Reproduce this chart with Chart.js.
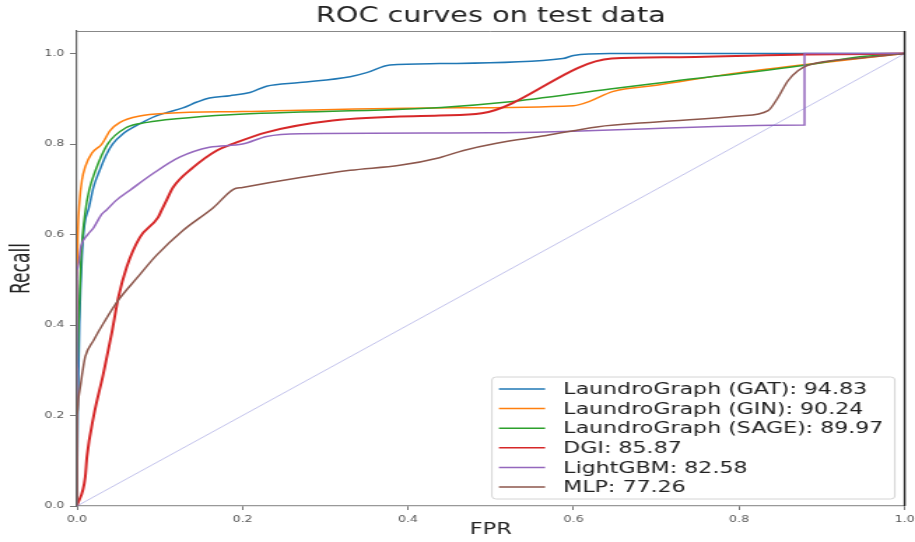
<!DOCTYPE html>
<html>
<head>
<meta charset="utf-8">
<title>ROC curves on test data</title>
<script src="https://cdn.jsdelivr.net/npm/chart.js@4.4.1/dist/chart.umd.min.js"></script>
<style>
  html, body { margin: 0; padding: 0; background: #fff; }
  #c { display: block; }
</style>
</head>
<body>
<!-- drawn at 654px wide and stretched to 915px, like the reference -->
<canvas id="c" width="654" height="542" style="width:915px;height:542px"></canvas>
<script>
const titleText = "ROC curves on test data";
const labels = [
  "LaundroGraph (GAT): 94.83",
  "LaundroGraph (GIN): 90.24",
  "LaundroGraph (SAGE): 89.97",
  "DGI: 85.87",
  "LightGBM: 82.58",
  "MLP: 77.26"
];
const colors = ["#1f77b4", "#ff7f0e", "#2ca02c", "#d62728", "#9467bd", "#8c564b"];

const gatFpr = [0, 0.001, 0.003, 0.006, 0.009, 0.0145, 0.02, 0.027, 0.035, 0.043, 0.055, 0.076, 0.095, 0.109, 0.128, 0.145, 0.16, 0.185, 0.209, 0.229, 0.269, 0.33, 0.35, 0.378, 0.438, 0.587, 0.6, 0.644, 1];
const gatTpr = [0, 0.2, 0.4, 0.55, 0.62, 0.66, 0.705, 0.74, 0.775, 0.8, 0.822, 0.845, 0.862, 0.87, 0.88, 0.893, 0.902, 0.907, 0.914, 0.928, 0.936, 0.949, 0.958, 0.975, 0.978, 0.989, 0.996, 1, 1];

const ginFpr = [0, 0, 0.001, 0.003, 0.006, 0.01, 0.018, 0.03, 0.04, 0.052, 0.076, 0.11, 0.2, 0.43, 0.6, 0.62, 0.647, 0.7, 0.8, 0.9, 1];
const ginTpr = [0, 0.5, 0.6, 0.67, 0.72, 0.75, 0.78, 0.8, 0.83, 0.848, 0.862, 0.868, 0.872, 0.88, 0.885, 0.895, 0.916, 0.93, 0.958, 0.98, 1];

const sageFpr = [0, 0, 0.002, 0.005, 0.01, 0.015, 0.022, 0.037, 0.06, 0.085, 0.12, 0.185, 0.44, 0.52, 0.644, 0.716, 0.882, 0.946, 1];
const sageTpr = [0, 0.3, 0.4, 0.55, 0.65, 0.7, 0.74, 0.8, 0.837, 0.848, 0.856, 0.865, 0.881, 0.893, 0.922, 0.938, 0.975, 0.993, 1];

const dgiFpr = [0, 0.01, 0.012, 0.02, 0.032, 0.042, 0.05, 0.06, 0.076, 0.098, 0.102, 0.108, 0.116, 0.14, 0.169, 0.189, 0.229, 0.309, 0.438, 0.489, 0.646, 0.72, 0.88, 1];
const dgiTpr = [0, 0.064, 0.108, 0.197, 0.293, 0.382, 0.461, 0.528, 0.594, 0.638, 0.653, 0.675, 0.704, 0.748, 0.786, 0.801, 0.826, 0.852, 0.863, 0.868, 0.989, 0.992, 0.998, 1];

const lgbmFpr = [0, 0, 0.005, 0.013, 0.02, 0.03, 0.036, 0.047, 0.064, 0.092, 0.124, 0.16, 0.2, 0.229, 0.27, 0.5, 0.879, 0.879, 1];
const lgbmTpr = [0, 0.52, 0.575, 0.6, 0.615, 0.645, 0.655, 0.675, 0.698, 0.735, 0.771, 0.793, 0.8, 0.817, 0.823, 0.825, 0.842, 1, 1];

const mlpFpr = [0, 0, 0.002, 0.004, 0.007, 0.01, 0.02, 0.032, 0.05, 0.072, 0.096, 0.128, 0.165, 0.189, 0.2, 0.27, 0.33, 0.39, 0.438, 0.467, 0.507, 0.567, 0.628, 0.7, 0.8, 0.835, 0.847, 0.859, 0.871, 0.883, 0.94, 1];
const mlpTpr = [0, 0.2, 0.24, 0.263, 0.3, 0.33, 0.366, 0.404, 0.455, 0.503, 0.554, 0.609, 0.66, 0.7, 0.704, 0.726, 0.742, 0.753, 0.77, 0.786, 0.802, 0.819, 0.838, 0.849, 0.862, 0.874, 0.903, 0.94, 0.962, 0.974, 0.989, 1];

const diagFpr = [0, 1];
const diagTpr = [0, 1];

const xTicks = [0, 0.2, 0.4, 0.6, 0.8, 1.0];
const yTicks = [0, 0.2, 0.4, 0.6, 0.8, 1.0];

const series = [
  [gatFpr, gatTpr], [ginFpr, ginTpr], [sageFpr, sageTpr],
  [dgiFpr, dgiTpr], [lgbmFpr, lgbmTpr], [mlpFpr, mlpTpr]
];

function points(xs, ys) {
  return xs.map((x, i) => ({ x: x, y: ys[i] }));
}

const datasets = series.map((s, i) => ({
  label: labels[i],
  data: points(s[0], s[1]),
  borderColor: colors[i],
  borderWidth: i === 3 ? 2 : 1.5,
  pointRadius: 0,
  cubicInterpolationMode: "monotone",
  order: 6 - i
}));
datasets.push({
  label: "chance",
  data: points(diagFpr, diagTpr),
  borderColor: "rgba(120,120,210,0.45)",
  borderWidth: 1,
  pointRadius: 0,
  order: 0
});

// title centred on the plot, top/right frame lines, legend box inside the plot
const framePlugin = {
  id: "frame",
  afterDraw(chart) {
    const { ctx, chartArea: a } = chart;
    ctx.save();
    ctx.strokeStyle = "#888";
    ctx.lineWidth = 1;
    ctx.beginPath();
    ctx.moveTo(a.left, a.top + 0.5);
    ctx.lineTo(a.right, a.top + 0.5);
    ctx.stroke();
    ctx.strokeStyle = "#222";
    ctx.lineWidth = 1.4;
    ctx.beginPath();
    ctx.moveTo(a.right, a.top);
    ctx.lineTo(a.right, a.bottom);
    ctx.stroke();

    ctx.fillStyle = "#222";
    ctx.font = "20.5px 'DejaVu Sans'";
    ctx.textAlign = "center";
    ctx.textBaseline = "middle";
    ctx.fillText(titleText, (a.left + a.right) / 2, 17);

    // legend
    const w = 288, h = 122;
    const bx = a.right - 7 - w, by = a.bottom - 7 - h;
    ctx.fillStyle = "rgba(255,255,255,0.85)";
    ctx.strokeStyle = "#d4d4d4";
    ctx.lineWidth = 1;
    ctx.beginPath();
    ctx.roundRect(bx, by, w, h, 3);
    ctx.fill();
    ctx.stroke();
    ctx.font = "15.8px 'DejaVu Sans'";
    ctx.textAlign = "left";
    chart.data.datasets.slice(0, 6).forEach((ds, i) => {
      const cy = by + 12 + i * 19.6;
      ctx.strokeStyle = ds.borderColor;
      ctx.lineWidth = 1.5;
      ctx.beginPath();
      ctx.moveTo(bx + 5, cy);
      ctx.lineTo(bx + 38, cy);
      ctx.stroke();
      ctx.fillStyle = "#222";
      ctx.fillText(ds.label, bx + 51, cy + 1);
    });
    ctx.restore();
  }
};

new Chart(document.getElementById("c"), {
  type: "line",
  data: { datasets: datasets },
  options: {
    responsive: false,
    devicePixelRatio: 1,
    animation: false,
    layout: { padding: { left: 0, right: 7.4, top: 31, bottom: 0 } },
    plugins: {
      legend: { display: false },
      tooltip: { enabled: false },
      title: { display: false }
    },
    scales: {
      x: {
        type: "linear",
        min: 0,
        max: 1,
        afterBuildTicks: s => { s.ticks = xTicks.map(v => ({ value: v })); },
        afterFit: s => { s.height = 36; s.paddingLeft = 0; s.paddingRight = 0; },
        ticks: {
          color: "#555",
          padding: 4,
          maxRotation: 0,
          font: { family: "DejaVu Sans", size: 9 },
          callback: v => v.toFixed(1)
        },
        grid: { display: true, drawOnChartArea: false, tickLength: 4, tickColor: "#777" },
        border: { display: true, color: "#999", width: 1.2 },
        title: {
          display: true,
          text: "FPR",
          color: "#222",
          font: { family: "DejaVu Sans", size: 16 },
          padding: { top: 0, bottom: 3 }
        }
      },
      y: {
        type: "linear",
        min: 0,
        max: 1.05,
        afterBuildTicks: s => { s.ticks = yTicks.map(v => ({ value: v })); },
        afterFit: s => { s.width = 55; s.paddingTop = 0; s.paddingBottom = 0; },
        ticks: {
          color: "#555",
          padding: 4,
          font: { family: "DejaVu Sans", size: 9 },
          callback: v => v.toFixed(1)
        },
        grid: { display: true, drawOnChartArea: false, tickLength: 5, tickColor: "#777" },
        border: { display: true, color: "#666", width: 1.2 },
        title: {
          display: true,
          text: "Recall",
          color: "#222",
          font: { family: "'Liberation Sans Narrow', 'DejaVu Sans Condensed', sans-serif", size: 19 },
          padding: { top: 5, bottom: 0 }
        }
      }
    }
  },
  plugins: [framePlugin]
});
</script>
</body>
</html>
